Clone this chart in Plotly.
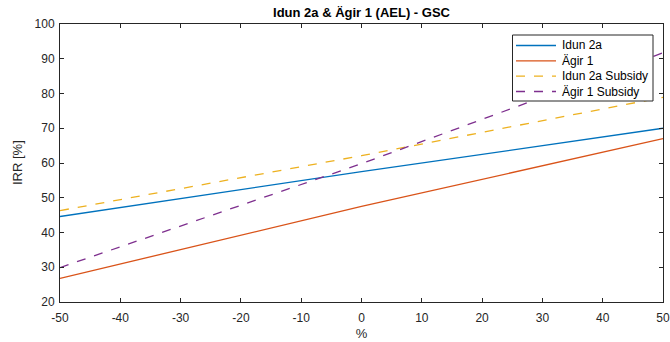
import plotly.graph_objects as go

# Sensitivity of IRR to a percentage change
pct = [-50, 0, 50]
idun_2a = [44.6, 57.5, 70.0]
agir_1 = [26.8, 47.5, 67.0]
idun_2a_subsidy = [46.3, 62.1, 78.9]
agir_1_subsidy = [29.9, 59.8, 91.7]

x_ticks = list(range(-50, 51, 10))
x_tick_text = [str(v) for v in x_ticks]
y_ticks = list(range(20, 101, 10))

series = [
    ("Idun 2a", idun_2a, "#0072BD", "solid"),
    ("Ägir 1", agir_1, "#D95319", "solid"),
    ("Idun 2a Subsidy", idun_2a_subsidy, "#EDB120", "dash"),
    ("Ägir 1 Subsidy", agir_1_subsidy, "#7E2F8E", "dash"),
]

FONT = "Liberation Sans, Arial"
W, H = 670, 342
ML, MR, MT, MB = 60, 7, 24, 40
PW, PH = W - ML - MR, H - MT - MB


def px_x(px):
    return (px - ML) / PW


def px_y(py):
    return (H - MB - py) / PH


fig = go.Figure()
for name, vals, color, dash in series:
    fig.add_trace(go.Scatter(
        x=pct, y=vals, mode="lines", name=name, showlegend=False,
        line=dict(color=color, width=1.3, dash=dash),
    ))

# Boxed legend in the upper right corner
shapes = [dict(type="rect", xref="paper", yref="paper",
               x0=px_x(512.5), x1=px_x(653), y0=px_y(101), y1=px_y(35),
               line=dict(color="#262626", width=1), fillcolor="white", layer="above")]
annotations = []
row_y = [45.5, 60.8, 76.2, 91.5]
for (name, vals, color, dash), ry in zip(series, row_y):
    shapes.append(dict(type="line", xref="paper", yref="paper",
                       x0=px_x(516), x1=px_x(556), y0=px_y(ry), y1=px_y(ry),
                       line=dict(color=color, width=1.3, dash=dash), layer="above"))
    annotations.append(dict(text=name, xref="paper", yref="paper",
                            x=px_x(560), y=px_y(ry), xanchor="left", yanchor="middle",
                            showarrow=False,
                            font=dict(family=FONT, size=12, color="#000000")))

# y-axis title
annotations.append(dict(text="IRR [%]", xref="paper", yref="paper",
                        x=px_x(17), y=0.5, xanchor="center", yanchor="middle",
                        textangle=-90, showarrow=False,
                        font=dict(family=FONT, size=13, color="#262626")))

axis_common = dict(
    showgrid=False, zeroline=False, showline=True, mirror="ticks",
    linecolor="#262626", linewidth=1, ticks="inside", ticklen=4,
    tickcolor="#262626", automargin=False,
    tickfont=dict(family=FONT, size=12, color="#262626"),
)

fig.update_layout(
    width=W, height=H,
    margin=dict(l=ML, r=MR, t=MT, b=MB),
    paper_bgcolor="white", plot_bgcolor="white",
    title=dict(text="<b>Idun 2a & Ägir 1 (AEL) - GSC</b>", x=0.5, xref="paper",
               y=0.965, yanchor="middle",
               font=dict(family=FONT, size=13, color="black")),
    xaxis=dict(range=[-50, 50], tickvals=x_ticks, ticktext=x_tick_text,
               ticklabelstandoff=5,
               title=dict(text="%", standoff=4,
                          font=dict(family=FONT, size=13, color="#262626")),
               **axis_common),
    yaxis=dict(range=[20, 100], tickvals=y_ticks, ticklabelstandoff=2,
               **axis_common),
    shapes=shapes,
    annotations=annotations,
    showlegend=False,
)

fig.write_html("out.html")
